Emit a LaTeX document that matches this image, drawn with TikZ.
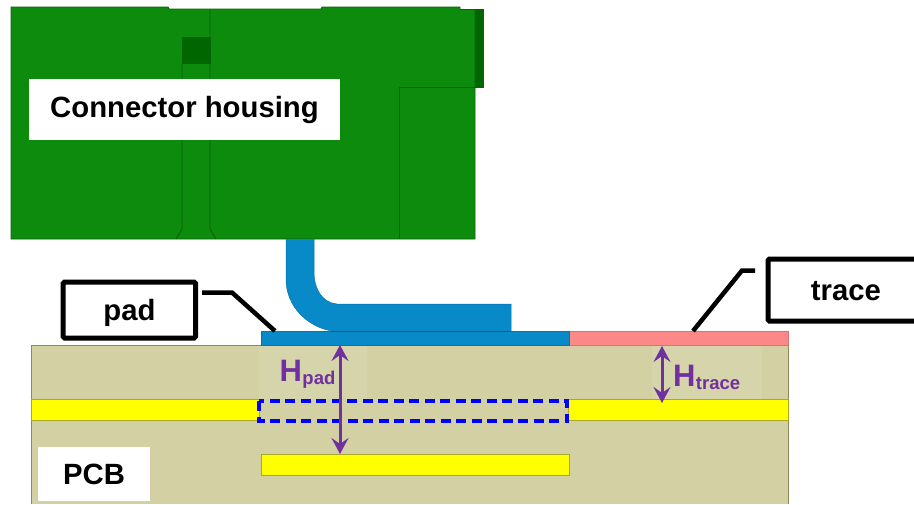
\documentclass[tikz,border=0pt]{standalone}
\usepackage{fontspec}
\setmainfont{Liberation Sans}
\usetikzlibrary{arrows.meta}
\definecolor{housing}{RGB}{12,139,12}
\definecolor{housingline}{RGB}{8,100,8}
\definecolor{housingdark}{RGB}{0,102,0}
\definecolor{leadblue}{RGB}{8,137,200}
\definecolor{tracepink}{RGB}{253,136,136}
\definecolor{board}{RGB}{211,209,164}
\definecolor{boardlight}{RGB}{214,212,170}
\definecolor{boardline}{RGB}{140,138,85}
\definecolor{copper}{RGB}{255,255,0}
\definecolor{copperline}{RGB}{170,168,40}
\definecolor{dimpurple}{RGB}{112,48,160}
\tikzset{
  x=1pt,y=-1pt,
  hline/.style={draw=housingline,line width=0.9pt},
  plane/.style={fill=copper,draw=copperline,line width=0.9pt},
  labelbox/.style={fill=white,draw=none,font=\bfseries\fontsize{29.3}{31}\selectfont,text=black,inner sep=0pt},
  calltext/.style={font=\bfseries\fontsize{29.3}{31}\selectfont,inner sep=0pt},
  callbox/.style={fill=white,draw=black,line width=5pt,rounded corners=1.5pt},
  callout/.style={draw=black,line width=4.5pt,line join=miter},
  dimarrow/.style={draw=dimpurple,line width=3pt,{Stealth[length=16pt,width=17pt,inset=6pt]}-{Stealth[length=16pt,width=17pt,inset=6pt]}},
  dimtext/.style={text=dimpurple,font=\bfseries\fontsize{31}{33}\selectfont,inner sep=0pt,anchor=base west},
  subtext/.style={text=dimpurple,font=\bfseries\fontsize{18.5}{20}\selectfont,inner sep=0pt,anchor=base west},
}
\begin{document}
\begin{tikzpicture}
\useasboundingbox (0,0) rectangle (914,504);
% housing
\draw[hline,fill=housing] (11,7) -- (168,7) -- (169,9) -- (321,9) -- (322,7) -- (460,7) -- (460,9.5) -- (475,9.5) -- (475,239) -- (11,239) -- cycle;
\draw[hline,fill=housingdark] (182,63) rectangle (210,37);
\draw[hline] (182,63) -- (182,229) -- (176,239);
\draw[hline] (210,9) -- (210,229) -- (216,239);
\draw[hline] (399,239) -- (399,87) -- (475,87);
\draw[hline,fill=housingdark] (475,9.5) -- (483,9.5) -- (483,87) -- (475,87) -- cycle;
\node[labelbox,minimum width=311pt,minimum height=61pt] (hous) at (184.5,109.5) {\raisebox{-2pt}{Connector housing}};
% board
\fill[board] (31,345) rectangle (788,504);
\draw[boardline,line width=0.9pt] (31,504) -- (31,345) -- (788,345) -- (788,504);
\fill[boardlight] (259,346) rectangle (367,399);
\fill[boardlight] (652,346) rectangle (762,399);
\draw[plane] (31,399) rectangle (259,420.5);
\draw[plane] (568,399) rectangle (788,420.5);
\draw[plane] (261,454) rectangle (569,475);
\draw[draw=blue,line width=3.8pt,dash pattern=on 10pt off 5.5pt] (259,401) rectangle (567,421);
% conductors
\draw[fill=tracepink,draw=tracepink!85!black,line width=0.7pt] (569,331) rectangle (788,345);
\draw[fill=leadblue,draw=leadblue!85!black,line width=0.7pt] (261,331) rectangle (569,345);
\fill[leadblue] (286,239) -- (286,279) .. controls (286,307) and (308,327) .. (332,331) -- (511,331) -- (511,304) -- (337,304) .. controls (322,303) and (314,288) .. (314,273) -- (314,239) -- cycle;
\draw[leadblue!85!black,line width=0.5pt] (286,239) -- (286,279) .. controls (286,307) and (308,327) .. (332,331);
\draw[leadblue!85!black,line width=0.5pt] (314,239) -- (314,273) .. controls (314,288) and (322,303) .. (337,304) -- (511,304) -- (511,331);
\draw[leadblue!65!black,line width=0.7pt] (332,331) -- (511,331);
% dimensions
\coordinate (padtop) at (340,345);
\coordinate (padbot) at (340,454);
\coordinate (trtop) at (662,346);
\coordinate (trbot) at (662,403);
\draw[dimarrow] (padtop) -- (padbot);
\draw[dimarrow] (trtop) -- (trbot);
\node[dimtext] (hp) at (279.5,381) {H};
\node[subtext] (hpsub) at (hp.base east) [yshift=-3.5pt] {pad};
\node[dimtext] (ht) at (673,386) {H};
\node[subtext] (htsub) at (ht.base east) [yshift=-3.5pt] {trace};
% callouts
\node[callbox,minimum width=132.5pt,minimum height=56pt] (padbox) at (129.3,310) {};
\node[calltext] (padtxt) at (129.5,312.5) {pad};
\path[fill=white,draw=black,line width=5pt,rounded corners=1.5pt] (920,259) -- (768,259) -- (768,321) -- (920,321);
\node[calltext] (trtxt) at (846,291) {trace};
\coordinate (padend) at (275,331);
\coordinate (padknee) at (232,292.5);
\coordinate (padstart) at (202,292.5);
\coordinate (trend) at (693,331);
\coordinate (trknee) at (742,270.5);
\coordinate (trstart) at (755,270.5);
\draw[callout] (padstart) -- (padknee) -- (padend);
\draw[callout] (trstart) -- (trknee) -- (trend);
\node[labelbox,minimum width=112pt,minimum height=54pt] (pcb) at (94,474) {\raisebox{-1pt}{PCB}};
\end{tikzpicture}
\end{document}
